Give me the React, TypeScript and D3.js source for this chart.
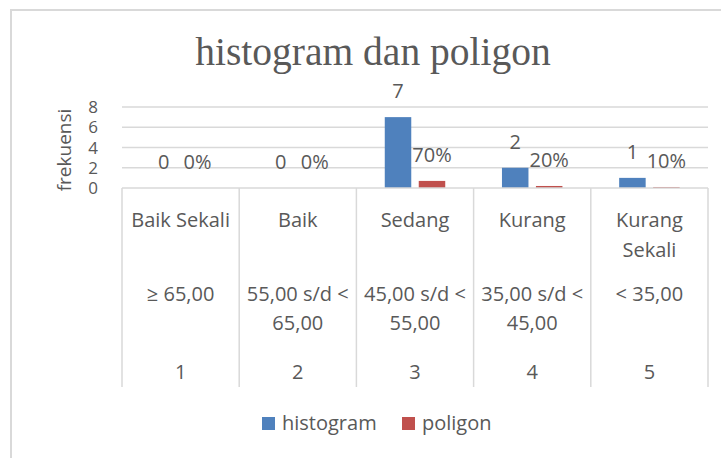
import React from "react";
import * as d3 from "d3";

const categories = ["Baik Sekali", "Baik", "Sedang", "Kurang", "Kurang Sekali"];
const categoryLines = [["Baik Sekali"], ["Baik"], ["Sedang"], ["Kurang"], ["Kurang", "Sekali"]];
const rangeLines = [["≥ 65,00"], ["55,00 s/d <", "65,00"], ["45,00 s/d <", "55,00"], ["35,00 s/d <", "45,00"], ["< 35,00"]];
const numbers = ["1", "2", "3", "4", "5"];
const histogram = [0, 0, 7, 2, 1];
const poligon = [0, 0, 0.7, 0.2, 0.1];
const poligonLabels = ["0%", "0%", "70%", "20%", "10%"];
const yTicks = [0, 2, 4, 6, 8];
const seriesNames = ["histogram", "poligon"];
const colors = ["#4F81BD", "#C0504D"];

const W = 721;
const H = 458;
const SANS = "'Open Sans', Lato, sans-serif";
const TXT = "#595959";

export default function App() {
  const plotLeft = 122;
  const plotRight = 708;
  const x = d3.scaleBand<number>().domain(d3.range(categories.length)).range([plotLeft, plotRight]).padding(0);
  const bw = x.bandwidth();
  const inner = d3.scaleBand<string>().domain(seriesNames).range([bw * 0.242, bw * 0.758]).paddingInner(0.22).paddingOuter(0);
  const y = d3.scaleLinear().domain([0, 8]).range([188, 107]);
  const tableBottom = 387;

  const seriesData = [histogram, poligon];
  const seriesLabels = [histogram.map(String), poligonLabels];

  return (
    <svg width={W} height={H} style={{ position: "absolute", left: 0, top: 0, display: "block" }}>
      <rect x={0} y={0} width={W} height={H} fill="#fff" />
      <rect x={11} y={10} width={W + 20} height={H + 20} fill="#fff" stroke="#d9d9d9" strokeWidth={2} />
      <text x={373} y={65} textAnchor="middle" fontFamily="'Liberation Serif', serif" fontSize={39.5} fill={TXT}>
        histogram dan poligon
      </text>
      {/* gridlines */}
      {yTicks.filter((t) => t > 0).map((t) => (
        <line key={t} x1={plotLeft} x2={plotRight} y1={y(t)} y2={y(t)} stroke="#d9d9d9" strokeWidth={1.3} />
      ))}
      {/* y ticks */}
      {yTicks.map((t) => (
        <text key={t} x={98} y={y(t)} dy="0.36em" textAnchor="end" fontFamily={SANS} fontSize={17} fill={TXT}>
          {t}
        </text>
      ))}
      <text transform={`translate(71,150) rotate(-90)`} textAnchor="middle" fontFamily={SANS} fontSize={19} fill={TXT}>
        frekuensi
      </text>
      {/* bars */}
      {seriesData.map((vals, si) =>
        vals.map((v, i) => {
          const bx = (x(i) as number) + (inner(seriesNames[si]) as number);
          return (
            <rect key={`${si}-${i}`} x={bx} y={y(v)} width={inner.bandwidth()} height={y(0) - y(v)} fill={colors[si]} />
          );
        })
      )}
      {/* table lines */}
      <line x1={plotLeft} x2={plotRight} y1={y(0)} y2={y(0)} stroke="#d9d9d9" strokeWidth={1.5} />
      {d3.range(categories.length + 1).map((i) => {
        const xx = plotLeft + i * bw;
        return <line key={i} x1={xx} x2={xx} y1={y(0)} y2={tableBottom} stroke="#d9d9d9" strokeWidth={1.5} />;
      })}
      {/* data labels */}
      {seriesData.map((vals, si) =>
        vals.map((v, i) => {
          const cx = (x(i) as number) + (inner(seriesNames[si]) as number) + inner.bandwidth() / 2;
          return (
            <text key={`l${si}-${i}`} x={cx} y={y(v) - 19} textAnchor="middle" fontFamily={SANS} fontSize={20} fill={TXT}>
              {seriesLabels[si][i]}
            </text>
          );
        })
      )}
      {/* category table text */}
      {categoryLines.map((lines, i) =>
        lines.map((l, j) => (
          <text key={`c${i}-${j}`} x={(x(i) as number) + bw / 2} y={227 + j * 30} textAnchor="middle" fontFamily={SANS} fontSize={20} fill={TXT}>
            {l}
          </text>
        ))
      )}
      {rangeLines.map((lines, i) =>
        lines.map((l, j) => (
          <text key={`r${i}-${j}`} x={(x(i) as number) + bw / 2} y={301 + j * 29} textAnchor="middle" fontFamily={SANS} fontSize={20} fill={TXT}>
            {l}
          </text>
        ))
      )}
      {numbers.map((n, i) => (
        <text key={`n${i}`} x={(x(i) as number) + bw / 2} y={379} textAnchor="middle" fontFamily={SANS} fontSize={20} fill={TXT}>
          {n}
        </text>
      ))}
      {/* legend */}
      {seriesNames.map((s, si) => {
        const lx = [262, 402][si];
        return (
          <g key={s}>
            <rect x={lx} y={417} width={13} height={13} fill={colors[si]} />
            <text x={lx + 20} y={430} fontFamily={SANS} fontSize={20} fill={TXT}>
              {s}
            </text>
          </g>
        );
      })}
    </svg>
  );
}
